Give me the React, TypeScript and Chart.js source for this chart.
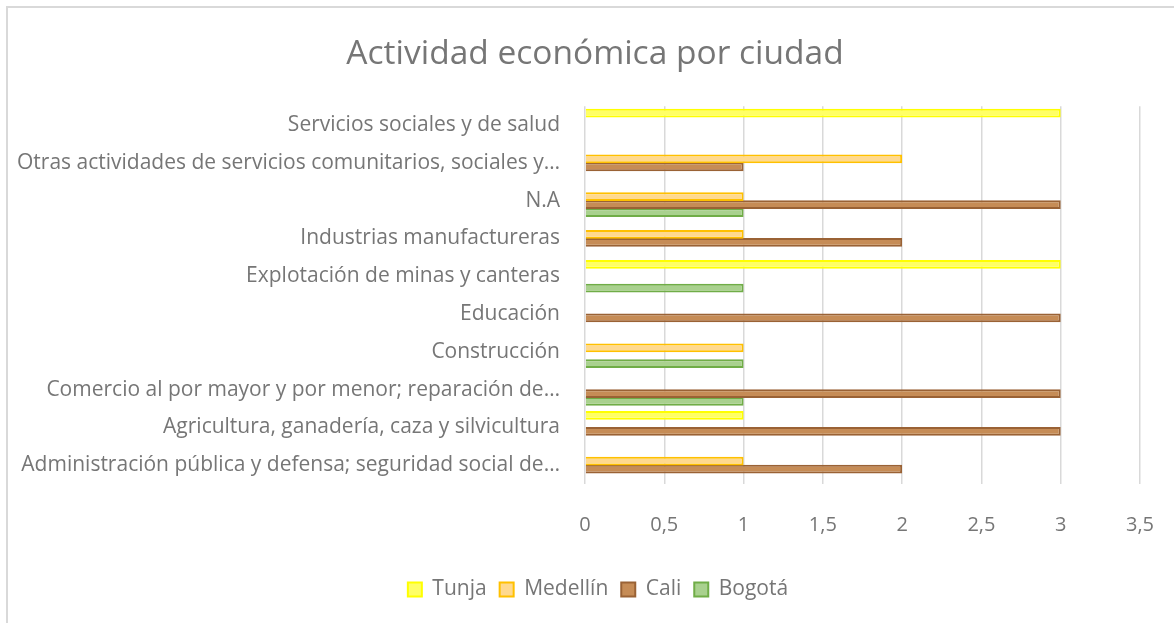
import React, { useEffect, useRef } from "react";
import { Chart, registerables } from "chart.js";

Chart.register(...registerables);

const categories = [
  "Servicios sociales y de salud",
  "Otras actividades de servicios comunitarios, sociales y…",
  "N.A",
  "Industrias manufactureras",
  "Explotación de minas y canteras",
  "Educación",
  "Construcción",
  "Comercio al por mayor y por menor; reparación de…",
  "Agricultura, ganadería, caza y silvicultura",
  "Administración pública y defensa; seguridad social de…",
];

const tunja = [3, null, null, null, 3, null, null, null, 1, null];
const medellin = [null, 2, 1, 1, null, null, 1, null, null, 1];
const cali = [null, 1, 3, 2, null, 3, null, 3, 3, 2];
const bogota = [null, null, 1, null, 1, null, 1, 1, null, null];

const xTickLabels = ["0", "0,5", "1", "1,5", "2", "2,5", "3", "3,5"];

const FONT = "'Open Sans', 'Liberation Sans', sans-serif";
const TEXT = "#767676";

const shiftBoxes = {
  id: "shiftBoxes",
  afterLayout(chart: any) {
    const t = chart.titleBlock;
    if (t) {
      t.left += 25;
      t.right += 25;
    }
    const l = chart.legend;
    if (l) {
      l.left += 28;
      l.right += 28;
    }
  },
};

export default function App() {
  const ref = useRef<HTMLCanvasElement | null>(null);

  useEffect(() => {
    if (!ref.current) return;
    const chart = new Chart(ref.current, {
      type: "bar",
      data: {
        labels: categories,
        datasets: [
          { label: "Tunja", data: tunja, backgroundColor: "#FFFF66", borderColor: "#FFFF00", borderWidth: 2 },
          { label: "Medellín", data: medellin, backgroundColor: "#FFD98F", borderColor: "#FFC000", borderWidth: 2 },
          { label: "Cali", data: cali, backgroundColor: "#C68C56", borderColor: "#9A6235", borderWidth: 2 },
          { label: "Bogotá", data: bogota, backgroundColor: "#A9D18E", borderColor: "#70AD47", borderWidth: 2 },
        ],
      },
      options: {
        indexAxis: "y",
        animation: false,
        responsive: false,
        maintainAspectRatio: false,
        datasets: { bar: { barPercentage: 1.1, categoryPercentage: 0.84 } },
        layout: { padding: { left: 0, right: 34, top: 0, bottom: 13 } },
        plugins: {
          title: {
            display: true,
            text: "Actividad económica por ciudad",
            color: TEXT,
            font: { family: FONT, size: 33.5, weight: "normal" },
            padding: { top: 34, bottom: 32 },
          },
          legend: {
            position: "bottom",
            labels: {
              color: TEXT,
              font: { family: FONT, size: 21 },
              boxWidth: 14,
              boxHeight: 14,
              padding: 13,
            },
          },
          tooltip: { enabled: false },
        },
        scales: {
          x: {
            min: 0,
            max: 3.5,
            ticks: {
              stepSize: 0.5,
              color: TEXT,
              font: { family: FONT, size: 20 },
              padding: 29,
              callback: (_v: any, i: number) => xTickLabels[i],
            },
            grid: { color: "#d9d9d9", lineWidth: 1.5, drawTicks: false },
            border: { display: false },
            afterFit: (s: any) => {
              s.height = 82;
              s.paddingRight = 0;
              s.paddingLeft = 0;
            },
          },
          y: {
            ticks: {
              color: TEXT,
              font: { family: FONT, size: 21 },
              padding: 25,
              autoSkip: false,
            },
            grid: { display: false, drawTicks: false },
            border: { display: false },
            afterFit: (s: any) => {
              s.width = 585;
            },
          },
        },
      },
      plugins: [shiftBoxes],
    });
    return () => chart.destroy();
  }, []);

  return (
    <div style={{ position: "fixed", left: 0, top: 0, width: 1174, height: 623, background: "#fff", overflow: "hidden" }}>
      <div
        style={{
          position: "absolute",
          left: 6,
          top: 6,
          width: 1200,
          height: 700,
          borderLeft: "2px solid #d9d9d9",
          borderTop: "2px solid #d9d9d9",
          boxSizing: "border-box",
        }}
      />
      <canvas ref={ref} width={1174} height={623} style={{ position: "absolute", left: 0, top: 0 }} />
    </div>
  );
}
